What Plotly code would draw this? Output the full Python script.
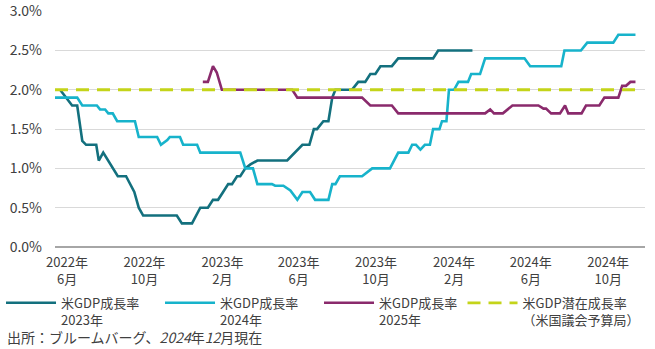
import plotly.graph_objects as go

# US real GDP growth consensus forecasts (%), by forecast year
dates_2023 = [
    "2022-05-21", "2022-05-30", "2022-06-09", "2022-06-17", "2022-06-25", "2022-07-01",
    "2022-07-17", "2022-07-21", "2022-07-28", "2022-08-20", "2022-09-02", "2022-09-15",
    "2022-09-22", "2022-09-29", "2022-11-21", "2022-11-29", "2022-12-15", "2022-12-28",
    "2023-01-09", "2023-01-17", "2023-01-25", "2023-02-02", "2023-02-10", "2023-02-16",
    "2023-02-24", "2023-03-01", "2023-03-09", "2023-03-17", "2023-03-28", "2023-05-14",
    "2023-05-26", "2023-06-07", "2023-06-18", "2023-06-25", "2023-06-30", "2023-07-10",
    "2023-07-18", "2023-07-24", "2023-07-29", "2023-08-24", "2023-08-29", "2023-09-03",
    "2023-09-14", "2023-09-22", "2023-09-30", "2023-10-08", "2023-10-26", "2023-11-05",
    "2023-12-30", "2024-01-07", "2024-03-01",
]
gdp_2023 = [
    2.0, 1.9, 1.8, 1.8, 1.35, 1.3,
    1.3, 1.1, 1.2, 0.9, 0.9, 0.7,
    0.5, 0.4, 0.4, 0.3, 0.3, 0.5,
    0.5, 0.6, 0.6, 0.7, 0.8, 0.8,
    0.9, 0.9, 1.0, 1.05, 1.1, 1.1,
    1.2, 1.3, 1.3, 1.5, 1.5, 1.6,
    1.6, 1.9, 2.0, 2.0, 2.05, 2.1,
    2.1, 2.2, 2.2, 2.3, 2.3, 2.4,
    2.4, 2.5, 2.5,
]

dates_2024 = [
    "2022-05-13", "2022-06-17", "2022-06-25", "2022-07-18", "2022-07-23", "2022-07-31",
    "2022-08-05", "2022-08-12", "2022-08-19", "2022-09-16", "2022-09-22", "2022-10-21",
    "2022-10-27", "2022-11-06", "2022-11-10", "2022-11-26", "2022-12-01", "2022-12-23",
    "2022-12-28", "2023-03-01", "2023-03-09", "2023-03-21", "2023-03-28", "2023-04-20",
    "2023-04-25", "2023-05-08", "2023-05-19", "2023-05-30", "2023-06-07", "2023-06-19",
    "2023-06-27", "2023-07-18", "2023-07-24", "2023-07-29", "2023-08-05", "2023-09-09",
    "2023-09-25", "2023-10-23", "2023-11-05", "2023-11-21", "2023-11-27", "2023-12-03",
    "2023-12-10", "2023-12-17", "2023-12-25", "2023-12-30", "2024-01-09", "2024-01-13",
    "2024-01-20", "2024-01-24", "2024-02-01", "2024-02-08", "2024-02-23", "2024-02-28",
    "2024-03-13", "2024-03-21", "2024-05-22", "2024-05-31", "2024-07-19", "2024-07-24",
    "2024-08-19", "2024-08-29", "2024-10-09", "2024-10-17", "2024-11-13",
]
gdp_2024 = [
    1.9, 1.9, 1.8, 1.8, 1.75, 1.75,
    1.7, 1.7, 1.6, 1.6, 1.4, 1.4,
    1.3, 1.36, 1.4, 1.4, 1.3, 1.3,
    1.2, 1.2, 1.0, 1.0, 0.8, 0.8,
    0.78, 0.78, 0.72, 0.6, 0.7, 0.7,
    0.6, 0.6, 0.8, 0.8, 0.9, 0.9,
    1.0, 1.0, 1.2, 1.2, 1.3, 1.3,
    1.24, 1.3, 1.3, 1.5, 1.5, 1.6,
    1.6, 2.0, 2.0, 2.1, 2.1, 2.2,
    2.2, 2.4, 2.4, 2.3, 2.3, 2.5,
    2.5, 2.6, 2.6, 2.7, 2.7,
]

dates_2025 = [
    "2023-01-01", "2023-01-09", "2023-01-17", "2023-01-23", "2023-01-31", "2023-05-22",
    "2023-05-30", "2023-09-09", "2023-09-22", "2023-10-26", "2023-11-05", "2024-03-21",
    "2024-03-29", "2024-04-04", "2024-04-18", "2024-05-03", "2024-06-13", "2024-06-21",
    "2024-06-25", "2024-07-03", "2024-07-17", "2024-07-25", "2024-07-30", "2024-08-20",
    "2024-08-27", "2024-09-17", "2024-09-25", "2024-10-17", "2024-10-23", "2024-10-29",
    "2024-11-05", "2024-11-13",
]
gdp_2025 = [
    2.1, 2.1, 2.3, 2.22, 2.0, 2.0,
    1.9, 1.9, 1.8, 1.8, 1.7, 1.7,
    1.75, 1.7, 1.7, 1.8, 1.8, 1.76,
    1.76, 1.7, 1.7, 1.8, 1.7, 1.7,
    1.8, 1.8, 1.9, 1.9, 2.05, 2.05,
    2.1, 2.1,
]

# CBO potential growth rate
dates_potential = ["2022-05-13", "2024-11-13"]
potential = [2.0, 2.0]

tick_dates = ["2022-06-01", "2022-10-01", "2023-02-01", "2023-06-01",
              "2023-10-01", "2024-02-01", "2024-06-01", "2024-10-01"]
tick_labels = ["2022年<br>6月", "2022年<br>10月", "2023年<br>2月", "2023年<br>6月",
               "2023年<br>10月", "2024年<br>2月", "2024年<br>6月", "2024年<br>10月"]

y_ticks = [0, 0.5, 1.0, 1.5, 2.0, 2.5, 3.0]
y_labels = ["0.0%", "0.5%", "1.0%", "1.5%", "2.0%", "2.5%", "3.0%"]

FONT = "Noto Sans CJK JP"
TEXT = "#404040"

fig = go.Figure()
fig.add_trace(go.Scatter(x=dates_2023, y=gdp_2023, mode="lines",
                         name="米GDP成長率<br>2023年",
                         line=dict(color="#13707E", width=2.6)))
fig.add_trace(go.Scatter(x=dates_2024, y=gdp_2024, mode="lines",
                         name="米GDP成長率<br>2024年",
                         line=dict(color="#17B3CB", width=2.6)))
fig.add_trace(go.Scatter(x=dates_2025, y=gdp_2025, mode="lines",
                         name="米GDP成長率<br>2025年",
                         line=dict(color="#8A2A6C", width=2.6)))
fig.add_trace(go.Scatter(x=dates_potential, y=potential, mode="lines",
                         name="米GDP潜在成長率<br>（米国議会予算局）",
                         legend="legend2",
                         line=dict(color="#C4D419", width=2.8, dash="13px,8px")))

legend_style = dict(orientation="h", yanchor="top", y=-0.173, xanchor="left",
                    itemwidth=50, valign="top",
                    font=dict(family=FONT, size=13, color=TEXT),
                    bgcolor="rgba(0,0,0,0)", tracegroupgap=0)

fig.update_layout(
    width=655, height=349,
    margin=dict(l=55, r=10, t=11, b=102, autoexpand=False),
    paper_bgcolor="white", plot_bgcolor="white",
    font=dict(family=FONT, size=13, color=TEXT),
    showlegend=True,
    legend=dict(legend_style, x=-0.0915, entrywidth=94),
    legend2=dict(legend_style, x=0.6907),
    xaxis=dict(type="date", range=["2022-05-13", "2024-11-28"],
               tickvals=tick_dates, ticktext=tick_labels,
               showgrid=False, zeroline=False,
               showline=False, ticks="", ticklabelstandoff=6,
               tickfont=dict(family=FONT, size=13, color=TEXT)),
    yaxis=dict(range=[0, 3.002], tickvals=y_ticks, ticktext=y_labels,
               showgrid=True, gridcolor="#D9D9D9", gridwidth=1,
               zeroline=True, zerolinecolor="#A6A6A6", zerolinewidth=2,
               ticks="", ticklabelstandoff=12,
               tickfont=dict(family=FONT, size=14, color=TEXT)),
)

fig.add_annotation(text="出所：ブルームバーグ、<i>2024</i>年<i>12</i>月現在",
                   xref="paper", yref="paper", x=-0.085, y=-0.38,
                   xanchor="left", yanchor="middle", showarrow=False,
                   font=dict(family=FONT, size=14, color=TEXT))

fig.write_html("out.html")
